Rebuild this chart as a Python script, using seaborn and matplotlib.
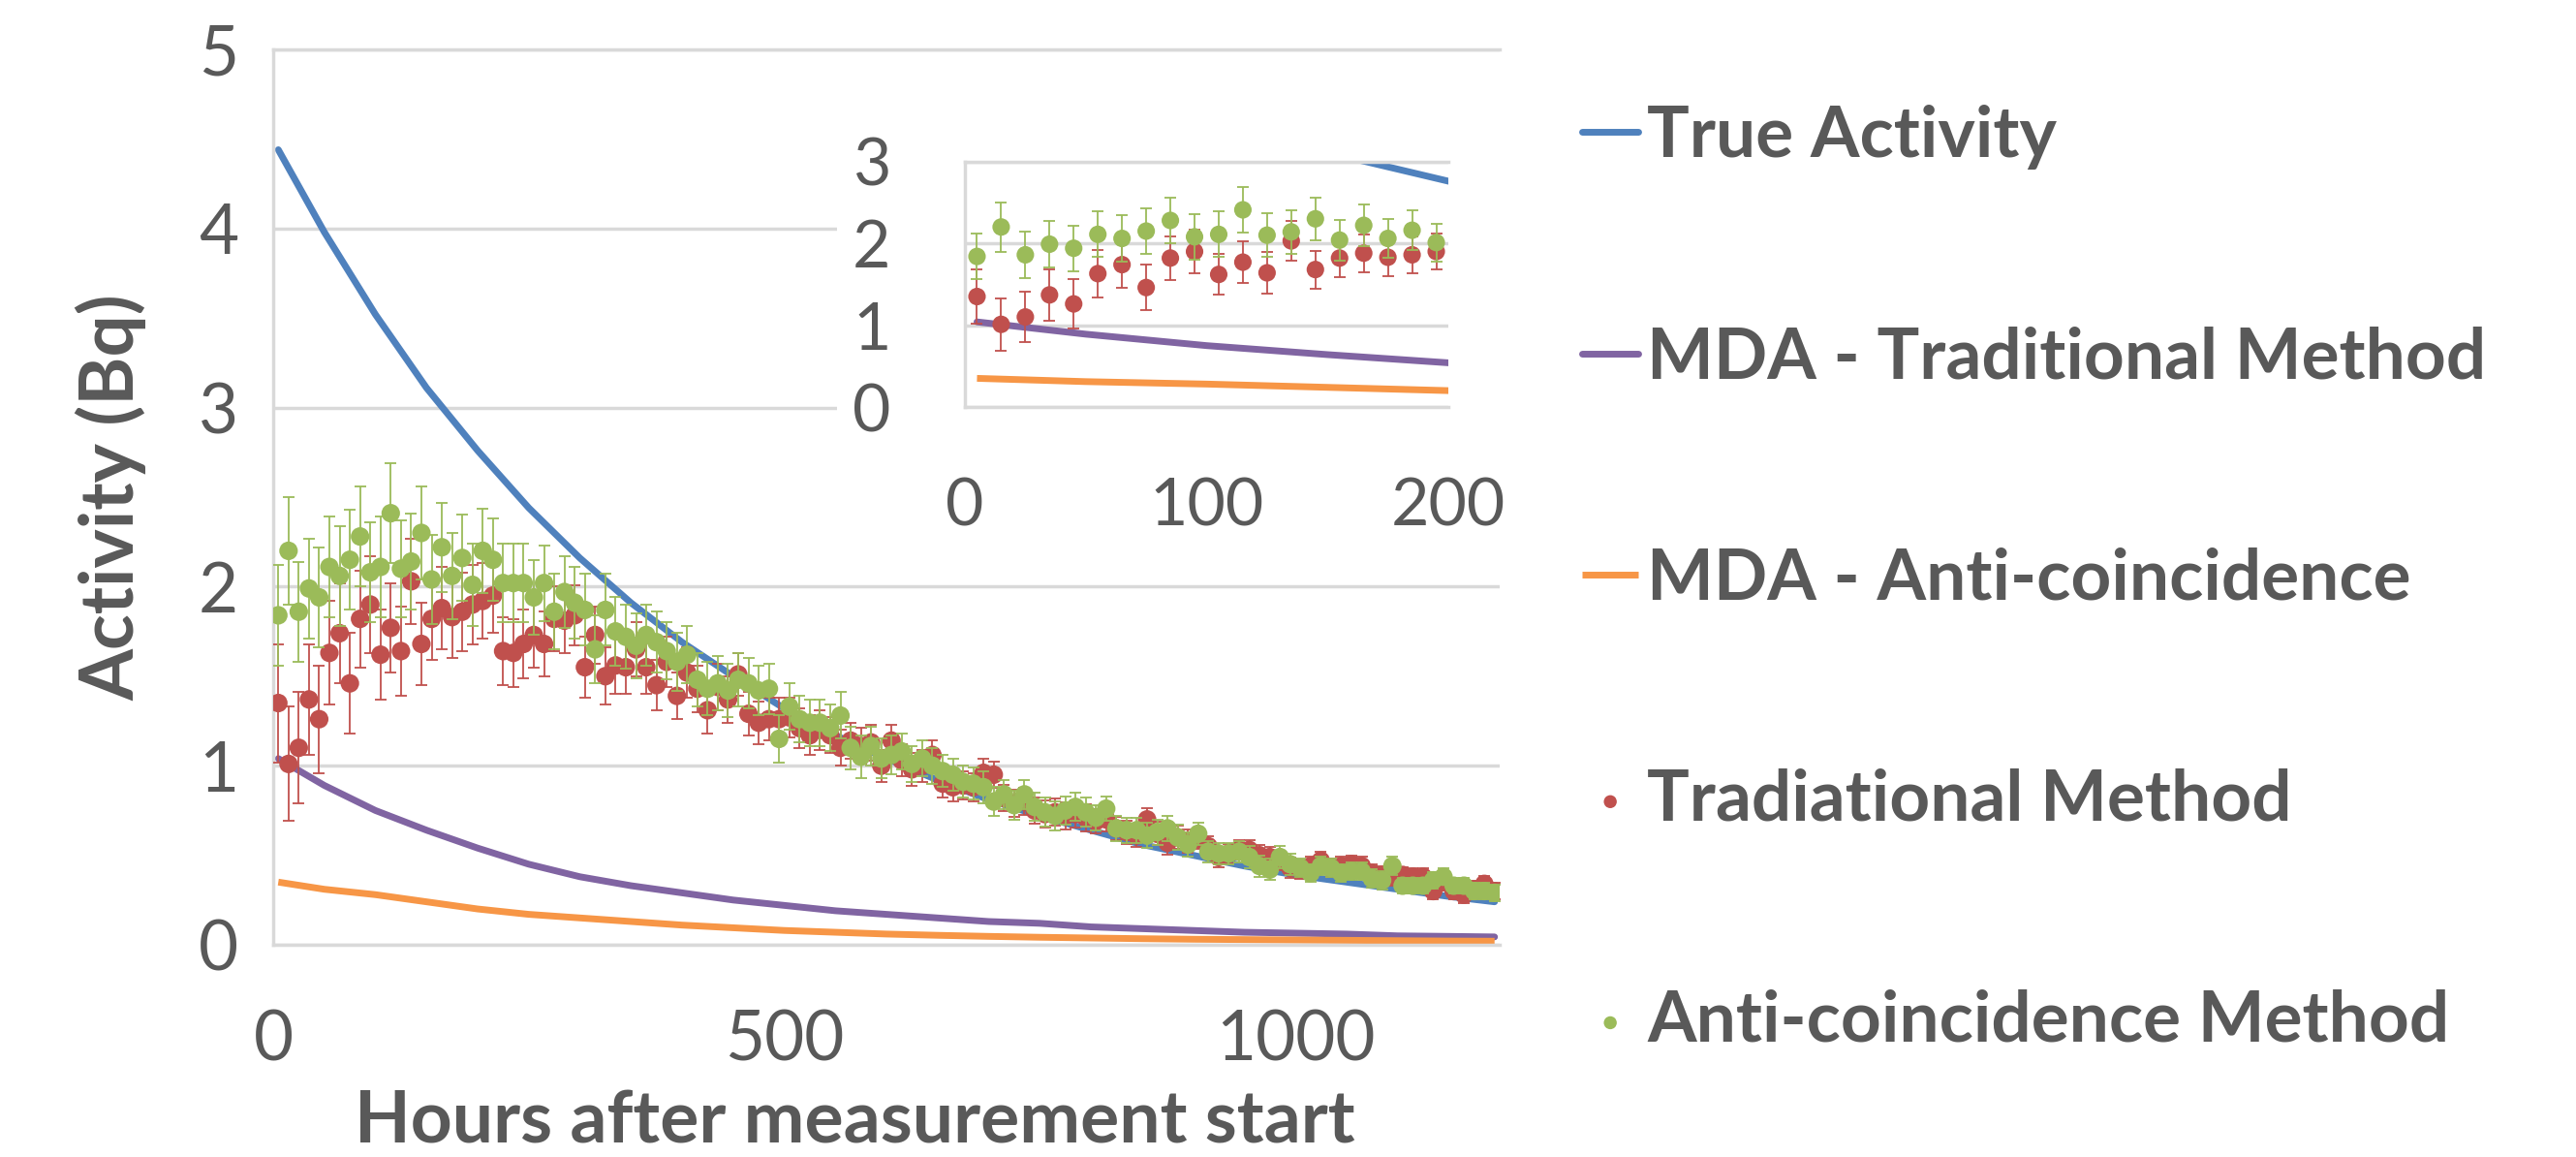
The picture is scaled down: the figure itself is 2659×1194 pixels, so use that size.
import matplotlib
matplotlib.use("Agg")
import matplotlib.pyplot as plt
import seaborn as sns

# ---------------- data ----------------
hours = [5, 15, 25, 35, 45, 55, 65, 75, 85, 95,
         105, 115, 125, 135, 145, 155, 165, 175, 185, 195,
         205, 215, 225, 235, 245, 255, 265, 275, 285, 295,
         305, 315, 325, 335, 345, 355, 365, 375, 385, 395,
         405, 415, 425, 435, 445, 455, 465, 475, 485, 495,
         505, 515, 525, 535, 545, 555, 565, 575, 585, 595,
         605, 615, 625, 635, 645, 655, 665, 675, 685, 695,
         705, 715, 725, 735, 745, 755, 765, 775, 785, 795,
         805, 815, 825, 835, 845, 855, 865, 875, 885, 895,
         905, 915, 925, 935, 945, 955, 965, 975, 985, 995,
         1005, 1015, 1025, 1035, 1045, 1055, 1065, 1075, 1085, 1095,
         1105, 1115, 1125, 1135, 1145, 1155, 1165, 1175, 1185, 1195]

anti_activity = [1.84, 2.20, 1.86, 1.99, 1.94, 2.11, 2.06, 2.15, 2.28, 2.08,
                 2.11, 2.41, 2.10, 2.14, 2.30, 2.04, 2.22, 2.06, 2.16, 2.01,
                 2.20, 2.15, 2.02, 2.02, 2.02, 1.94, 2.02, 1.86, 1.97, 1.91,
                 1.87, 1.65, 1.87, 1.75, 1.72, 1.67, 1.73, 1.69, 1.64, 1.58,
                 1.62, 1.48, 1.43, 1.46, 1.42, 1.48, 1.46, 1.42, 1.43, 1.15,
                 1.33, 1.26, 1.24, 1.24, 1.21, 1.28, 1.10, 1.05, 1.11, 1.04,
                 1.06, 1.08, 1.01, 1.04, 1.00, 0.97, 0.95, 0.91, 0.90, 0.88,
                 0.80, 0.84, 0.78, 0.84, 0.77, 0.74, 0.72, 0.75, 0.77, 0.74,
                 0.71, 0.76, 0.65, 0.64, 0.64, 0.61, 0.63, 0.65, 0.60, 0.56,
                 0.62, 0.52, 0.51, 0.51, 0.52, 0.49, 0.44, 0.42, 0.49, 0.45,
                 0.43, 0.40, 0.44, 0.43, 0.40, 0.41, 0.41, 0.37, 0.36, 0.44,
                 0.33, 0.33, 0.33, 0.36, 0.38, 0.33, 0.33, 0.30, 0.30, 0.29]

anti_err = [0.28, 0.30, 0.28, 0.28, 0.28, 0.28, 0.28, 0.28, 0.28, 0.28,
            0.28, 0.28, 0.27, 0.27, 0.26, 0.25, 0.25, 0.24, 0.24, 0.23,
            0.235, 0.23, 0.22, 0.22, 0.22, 0.21, 0.21, 0.21, 0.20, 0.20,
            0.20, 0.19, 0.20, 0.19, 0.18, 0.18, 0.17, 0.17, 0.16, 0.16,
            0.16, 0.15, 0.15, 0.15, 0.15, 0.15, 0.14, 0.14, 0.14, 0.13,
            0.13, 0.13, 0.13, 0.13, 0.13, 0.13, 0.12, 0.12, 0.11, 0.11,
            0.11, 0.10, 0.10, 0.10, 0.10, 0.09, 0.09, 0.09, 0.09, 0.09,
            0.08, 0.08, 0.08, 0.08, 0.08, 0.08, 0.08, 0.08, 0.08, 0.08,
            0.07, 0.07, 0.07, 0.07, 0.07, 0.07, 0.07, 0.07, 0.07, 0.07,
            0.06, 0.06, 0.06, 0.06, 0.06, 0.06, 0.06, 0.06, 0.06, 0.06,
            0.05, 0.05, 0.05, 0.05, 0.05, 0.05, 0.05, 0.05, 0.05, 0.05,
            0.045, 0.045, 0.045, 0.045, 0.045, 0.045, 0.045, 0.045, 0.045, 0.045]

trad_activity = [1.35, 1.01, 1.10, 1.37, 1.26, 1.63, 1.74, 1.46, 1.82, 1.90,
                 1.62, 1.77, 1.64, 2.03, 1.68, 1.82, 1.88, 1.83, 1.86, 1.90,
                 1.92, 1.95, 1.64, 1.63, 1.68, 1.73, 1.68, 1.82, 1.81, 1.84,
                 1.55, 1.73, 1.50, 1.56, 1.55, 1.65, 1.55, 1.45, 1.58, 1.39,
                 1.52, 1.43, 1.31, 1.44, 1.37, 1.51, 1.29, 1.24, 1.26, 1.26,
                 1.27, 1.21, 1.17, 1.20, 1.17, 1.10, 1.14, 1.11, 1.13, 1.00,
                 1.14, 1.03, 0.98, 1.00, 1.06, 0.90, 0.88, 0.89, 0.88, 0.96,
                 0.95, 0.82, 0.79, 0.80, 0.75, 0.73, 0.74, 0.72, 0.73, 0.71,
                 0.69, 0.70, 0.65, 0.63, 0.61, 0.70, 0.62, 0.57, 0.60, 0.58,
                 0.59, 0.55, 0.49, 0.51, 0.53, 0.53, 0.50, 0.49, 0.47, 0.43,
                 0.42, 0.44, 0.47, 0.43, 0.44, 0.45, 0.44, 0.40, 0.39, 0.38,
                 0.39, 0.38, 0.38, 0.30, 0.35, 0.30, 0.28, 0.31, 0.34, 0.30]

trad_err = [0.33, 0.32, 0.31, 0.31, 0.30, 0.29, 0.28, 0.28, 0.27, 0.27,
            0.25, 0.25, 0.25, 0.24, 0.23, 0.23, 0.23, 0.23, 0.22, 0.22,
            0.21, 0.21, 0.19, 0.19, 0.19, 0.18, 0.18, 0.18, 0.18, 0.17,
            0.17, 0.16, 0.16, 0.16, 0.15, 0.15, 0.15, 0.14, 0.14, 0.13,
            0.14, 0.13, 0.13, 0.13, 0.13, 0.12, 0.12, 0.12, 0.12, 0.12,
            0.11, 0.11, 0.11, 0.11, 0.10, 0.10, 0.10, 0.10, 0.10, 0.09,
            0.09, 0.09, 0.09, 0.09, 0.08, 0.08, 0.08, 0.08, 0.08, 0.08,
            0.075, 0.075, 0.075, 0.075, 0.075, 0.075, 0.075, 0.075, 0.075, 0.075,
            0.065, 0.065, 0.065, 0.065, 0.065, 0.065, 0.065, 0.065, 0.065, 0.065,
            0.055, 0.055, 0.055, 0.055, 0.055, 0.055, 0.055, 0.055, 0.055, 0.055,
            0.05, 0.05, 0.05, 0.05, 0.05, 0.05, 0.05, 0.05, 0.05, 0.05,
            0.045, 0.045, 0.045, 0.045, 0.045, 0.045, 0.045, 0.045, 0.045, 0.045]

curve_hours = [5, 50, 100, 150, 200, 250, 300, 350, 400, 450, 500, 550, 600,
               650, 700, 750, 800, 850, 900, 950, 1000, 1050, 1100, 1150, 1195]
true_activity = [4.44, 3.98, 3.52, 3.11, 2.76, 2.44, 2.16, 1.91, 1.69, 1.50,
                 1.32, 1.17, 1.04, 0.92, 0.81, 0.72, 0.64, 0.56, 0.50, 0.44,
                 0.39, 0.35, 0.31, 0.27, 0.24]
mda_traditional = [1.04, 0.89, 0.75, 0.64, 0.54, 0.45, 0.38, 0.33, 0.29, 0.25,
                   0.22, 0.19, 0.17, 0.15, 0.13, 0.12, 0.10, 0.09, 0.08, 0.07,
                   0.065, 0.06, 0.05, 0.047, 0.044]
mda_anticoinc = [0.35, 0.31, 0.28, 0.24, 0.20, 0.17, 0.15, 0.13, 0.11, 0.095,
                 0.08, 0.07, 0.06, 0.053, 0.047, 0.042, 0.038, 0.034, 0.031, 0.029,
                 0.027, 0.025, 0.023, 0.021, 0.02]

labels = ["True Activity", "MDA - Traditional Method", "MDA - Anti-coincidence",
          "Tradiational Method", "Anti-coincidence Method"]
main_xticks = [0, 500, 1000]
main_yticks = [0, 1, 2, 3, 4, 5]
inset_xticks = [0, 100, 200]
inset_yticks = [0, 1, 2, 3]

# ---------------- style ----------------
sns.set_theme(style="white")
plt.rcParams["font.family"] = ["Lato", "DejaVu Sans"]

C_TRUE, C_MDAT, C_MDAA = "#4F81BD", "#8064A2", "#F79646"
C_TRAD, C_ANTI = "#C0504D", "#9BBB59"
TXT, GRID = "#595959", "#D9D9D9"

W, H = 2659, 1194
fig = plt.figure(figsize=(W / 100, H / 100), dpi=100)
fig.patch.set_facecolor("white")


def fx(px):
    return px / W


def fy(py):
    return 1 - py / H


def draw_series(ax, lw, ms, cap, elw, with_labels):
    lab = (lambda i: labels[i]) if with_labels else (lambda i: None)
    sns.lineplot(x=curve_hours, y=true_activity, ax=ax, color=C_TRUE, linewidth=lw,
                 estimator=None, sort=False, label=lab(0), zorder=2,
                 solid_capstyle="round")
    sns.lineplot(x=curve_hours, y=mda_traditional, ax=ax, color=C_MDAT, linewidth=lw,
                 estimator=None, sort=False, label=lab(1), zorder=2,
                 solid_capstyle="round")
    sns.lineplot(x=curve_hours, y=mda_anticoinc, ax=ax, color=C_MDAA, linewidth=lw,
                 estimator=None, sort=False, label=lab(2), zorder=2,
                 solid_capstyle="butt")
    ax.errorbar(hours, trad_activity, yerr=trad_err, fmt="none", ecolor=C_TRAD,
                elinewidth=elw, capsize=cap, capthick=elw, zorder=3)
    sns.scatterplot(x=hours, y=trad_activity, ax=ax, color=C_TRAD, s=ms,
                    edgecolor="none", linewidth=0, label=lab(3), zorder=4)
    ax.errorbar(hours, anti_activity, yerr=anti_err, fmt="none", ecolor=C_ANTI,
                elinewidth=elw, capsize=cap, capthick=elw, zorder=5)
    sns.scatterplot(x=hours, y=anti_activity, ax=ax, color=C_ANTI, s=ms,
                    edgecolor="none", linewidth=0, label=lab(4), zorder=6)


def style_axes(ax, xticks, yticks, xlim, ylim, size, xpad, ypad):
    ax.set_xlim(*xlim)
    ax.set_ylim(*ylim)
    ax.set_xticks(xticks)
    ax.set_yticks(yticks)
    ax.set_xticklabels([str(v) for v in xticks])
    ax.set_yticklabels([str(v) for v in yticks])
    ax.yaxis.grid(True, color=GRID, lw=2.5)
    ax.xaxis.grid(False)
    ax.set_axisbelow(True)
    for s in ["left", "bottom", "top"]:
        ax.spines[s].set_visible(True)
        ax.spines[s].set_color(GRID)
        ax.spines[s].set_linewidth(2.5)
    ax.spines["right"].set_visible(False)
    ax.tick_params(axis="both", length=0, labelsize=size, colors=TXT)
    ax.tick_params(axis="x", pad=xpad)
    ax.tick_params(axis="y", pad=ypad)
    ax.set_xlabel("")
    ax.set_ylabel("")


# ---------------- main axes ----------------
ax = fig.add_axes([fx(282), fy(975), fx(1548 - 282), (975 - 51) / H])
ax.set_zorder(0)
draw_series(ax, lw=5.0, ms=190, cap=4.3, elw=1.3, with_labels=True)
style_axes(ax, main_xticks, main_yticks, (0, 1200), (0, 5), 51, 48, 26)
ax.set_ylabel("Activity (Bq)", fontsize=55, fontweight="bold", color=TXT)
ax.set_xlabel("Hours after measurement start", fontsize=54, fontweight="bold", color=TXT)
ax.yaxis.set_label_coords((151 - 282) / (1548 - 282), 0.5)
ax.xaxis.set_label_coords(0.4745, -(1123 - 975) / (975 - 51))

handles, labs = ax.get_legend_handles_labels()
ax.get_legend().remove()

# ---------------- white background of the inset chart ----------------
bg = fig.add_axes([fx(864), fy(585), fx(1565 - 864), (585 - 70) / H])
bg.set_zorder(1)
bg.set_facecolor("white")
bg.set_xticks([])
bg.set_yticks([])
for s in bg.spines.values():
    s.set_visible(False)

# ---------------- inset axes ----------------
ins = fig.add_axes([fx(996), fy(420), fx(1495 - 996), (420 - 166.7) / H])
ins.set_zorder(2)
ins.set_facecolor("white")
draw_series(ins, lw=5.0, ms=170, cap=4.3, elw=1.3, with_labels=False)
style_axes(ins, inset_xticks, inset_yticks, (0, 200), (0, 3), 49, 52, 55)
if ins.get_legend() is not None:
    ins.get_legend().remove()

# ---------------- legend ----------------
fig.legend(handles, labs, loc="upper left", bbox_to_anchor=(fx(1633), fy(108)),
           frameon=False, prop={"weight": "bold", "size": 52.5}, labelcolor=TXT,
           handlelength=0.8, handletextpad=0.12, labelspacing=2.21,
           markerscale=0.7, borderpad=0, borderaxespad=0)

fig.savefig("out.png", dpi=100, facecolor="white")
